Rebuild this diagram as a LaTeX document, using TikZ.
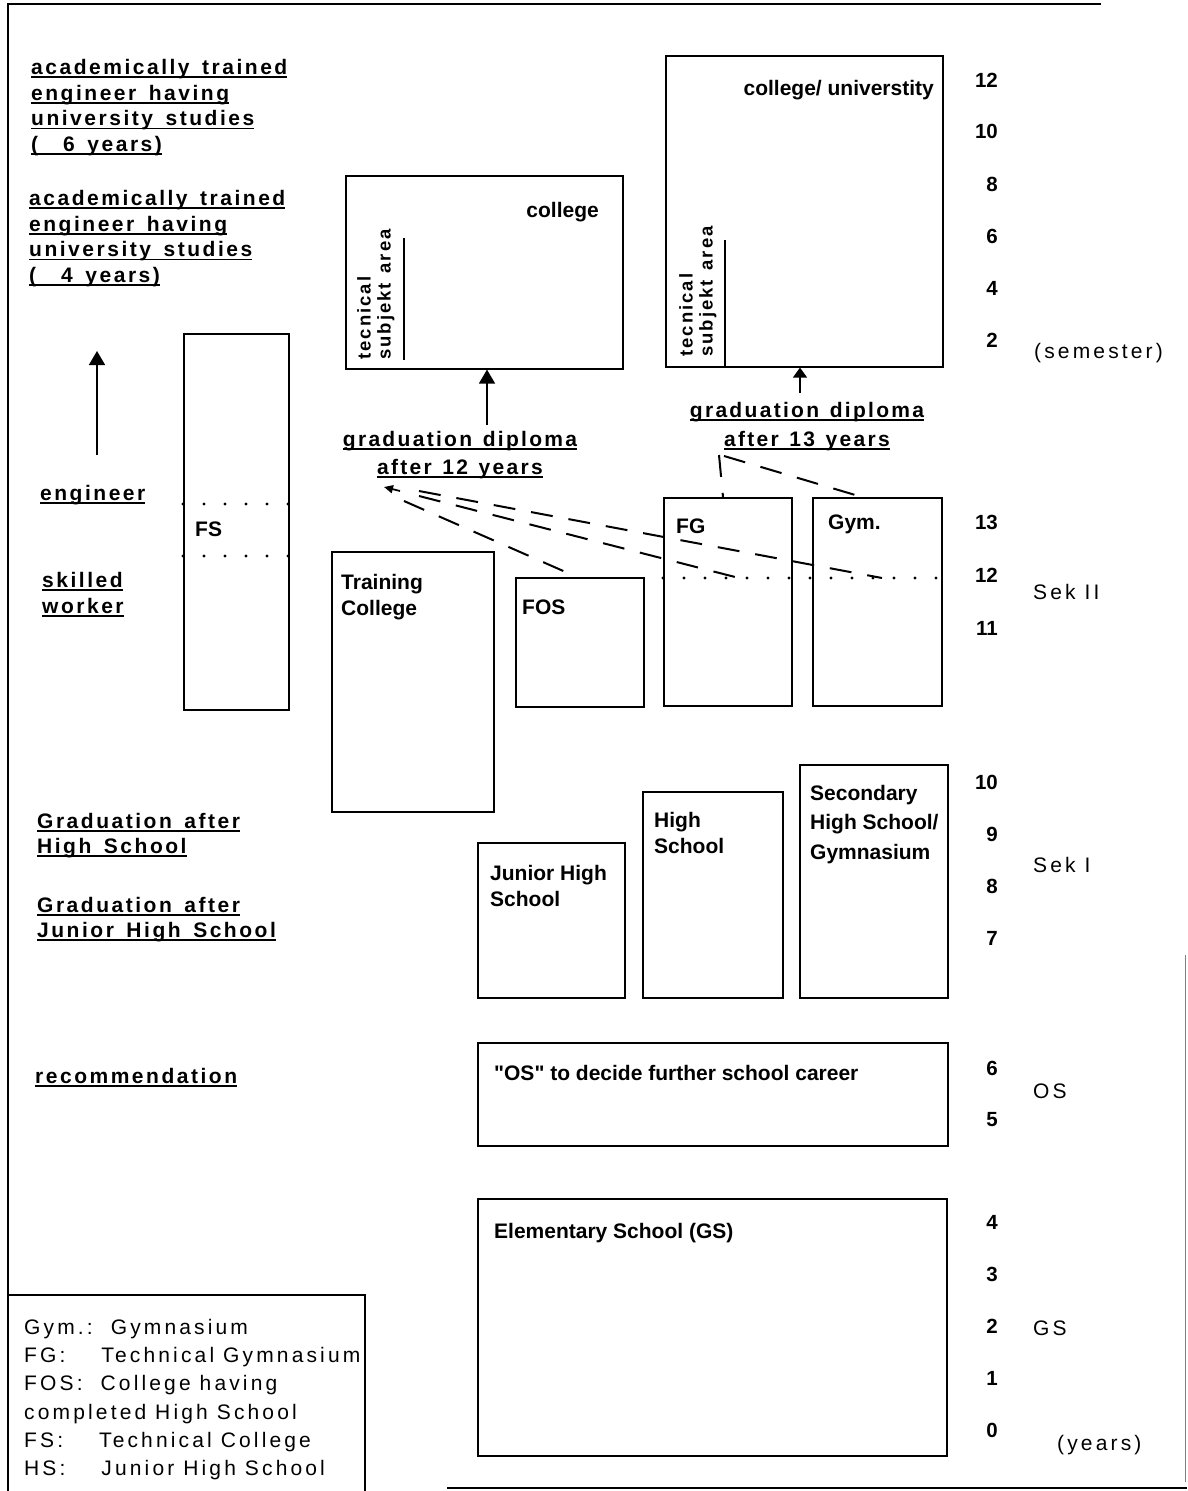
\documentclass[tikz,border=0pt]{standalone}
\usepackage{fontspec}
\setmainfont{Liberation Sans}
\newfontfamily\lsp[LetterSpace=15]{Liberation Sans}
\newfontfamily\lspb[LetterSpace=12,WordSpace=1.5]{Liberation Sans Bold}
\newfontfamily\lspc[LetterSpace=11,WordSpace=1.3]{Liberation Sans Bold}
\newfontfamily\bnq[Ligatures=TeXOff]{Liberation Sans Bold}
\usetikzlibrary{arrows.meta}
\newcommand\myul[1]{\setbox0\hbox{#1}\rlap{\rule[-3.5pt]{\wd0}{1.6pt}}\box0}
\tikzset{
  box/.style={draw, line width=1.6pt, inner sep=0pt, anchor=north west},
  blab/.style={anchor=north west, inner sep=0pt, align=left, font=\bfseries\fontsize{21}{26}\selectfont},
  slab/.style={anchor=north west, inner sep=0pt, align=left, font=\lspb\fontsize{21}{25.7}\selectfont},
  rlab/.style={anchor=base west, inner sep=0pt, font=\lsp\fontsize{21}{25}\selectfont},
  num/.style={anchor=base east, inner sep=0pt, font=\bfseries\fontsize{20.5}{24}\selectfont},
  rot/.style={anchor=north west, inner sep=0pt, align=left, rotate=90, font=\lspc\fontsize{18.5}{20}\selectfont},
  arr/.style={line width=1.6pt, -{Triangle[length=14pt,width=16pt]}},
  dsh/.style={line width=2pt, dash pattern=on 22pt off 16pt},
  dots/.style={line width=3.4pt, line cap=round, dash pattern=on 0pt off 21pt},
}
\begin{document}
\begin{tikzpicture}[x=1pt,y=-1pt]
\useasboundingbox (0,0) rectangle (1187,1491);
% frame
\draw[line width=1.5pt] (8,1491) -- (8,4) -- (1101,4);
\draw[line width=1pt, gray] (1185,955) -- (1185,1482);
\draw[line width=1.5pt] (447,1488) -- (1187,1488);
% boxes
\node[box, minimum width=105, minimum height=376] (fs) at (183,333) {};
\node[box, minimum width=277, minimum height=193] (college) at (345,175) {};
\node[box, minimum width=277, minimum height=311] (uni) at (665,55) {};
\node[box, minimum width=162, minimum height=260] (train) at (331,551) {};
\node[box, minimum width=128, minimum height=129] (fos) at (515,577) {};
\node[box, minimum width=128, minimum height=208] (fg) at (663,497) {};
\node[box, minimum width=129, minimum height=208] (gym) at (812,497) {};
\node[box, minimum width=147, minimum height=155] (jhs) at (477,842) {};
\node[box, minimum width=140, minimum height=206] (hs) at (642,791) {};
\node[box, minimum width=148, minimum height=233] (sec) at (799,764) {};
\node[box, minimum width=470, minimum height=103] (os) at (477,1042) {};
\node[box, minimum width=469, minimum height=257] (gs) at (477,1198) {};
% legend box
\draw[line width=1.5pt] (8,1295) -- (365,1295) -- (365,1491);
% box labels
\node[blab] (fsl) at (195,522) {FS};
\node[blab, anchor=north east] (coll) at (599,202) {college};
\node[blab, anchor=north east] (unil) at (934,80) {college/ universtity};
\node[blab] (trainl) at (341,574) {Training\\College};
\node[blab] (fosl) at (522,600) {FOS};
\node[blab] (fgl) at (676,519) {FG};
\node[blab] (gyml) at (828,515) {Gym.};
\node[blab] (jhsl) at (490,865) {Junior High\\School};
\node[blab] (hsl) at (654,812) {High\\School};
\node[blab, font=\bfseries\fontsize{21}{29.5}\selectfont] (secl) at (810,785) {Secondary\\High School/\\Gymnasium};
\node[blab, font=\bnq\fontsize{21}{26}\selectfont] (osl) at (494,1065) {"OS" to decide further school career};
\node[blab] (gsl) at (494,1223) {Elementary School (GS)};
% rotated labels and subject lines
\node[rot] (rc) at (357,360) {tecnical\\subjekt area};
\node[rot] (ru) at (679,357) {tecnical\\subjekt area};
\draw[line width=1.6pt] (404,238) -- (404,360);
\draw[line width=1.6pt] (725,240) -- (725,366);
% dotted lines
\draw[dots] (183,504) -- (290,504);
\draw[dots] (183,556) -- (290,556);
\draw[dots] (663,578) -- (943,578);
% left labels
\node[slab] (l6) at (31,59) {\myul{academically trained}\\\myul{engineer having}\\\myul{university studies}\\\myul{(\ \ 6 years)}};
\node[slab] (l4) at (29,190) {\myul{academically trained}\\\myul{engineer having}\\\myul{university studies}\\\myul{(\ \ 4 years)}};
\node[slab] (eng) at (40,485) {\myul{engineer}};
\node[slab, font=\lspb\fontsize{21}{26}\selectfont] (sw) at (42,572) {\myul{skilled}\\\myul{worker}};
\node[slab, font=\lspb\fontsize{21}{25}\selectfont] (ghs) at (37,813) {\myul{Graduation after}\\\myul{High School}};
\node[slab, font=\lspb\fontsize{21}{25}\selectfont] (gjhs) at (37,897) {\myul{Graduation after}\\\myul{Junior High School}};
\node[slab] (rec) at (35,1068) {\myul{recommendation}};
% legend
\node[slab, font=\lsp\fontsize{21}{28.2}\selectfont] (leg) at (24,1319) {Gym.:\ \ Gymnasium\\FG:\ \ \ \ Technical Gymnasium\\FOS:\ \ College having\\completed High School\\FS:\ \ \ \ Technical College\\HS:\ \ \ \ Junior High School};
% graduation labels
\node[slab, anchor=north, align=center, font=\lspc\fontsize{21}{28}\selectfont] (g12) at (460,431) {\myul{graduation diploma}\\\myul{after 12 years}};
\node[slab, anchor=north, align=center, font=\lspc\fontsize{21}{29}\selectfont] (g13) at (807,402) {\myul{graduation diploma}\\\myul{after 13 years}};
% arrows
\coordinate (a0) at (97,455);
\draw[arr] (a0) -- (97,351);
\coordinate (c12) at (487,425);
\draw[arr] (c12) -- (c12 |- college.south);
\coordinate (c13) at (800,393);
\draw[arr, -{Triangle[length=10pt,width=14pt]}] (c13) -- (c13 |- uni.south);
% dashed connectors
\coordinate (t12) at (384,487);
\coordinate (e1) at (577,577);
\coordinate (e2) at (739,578);
\coordinate (e3) at (882,578);
\coordinate (t13) at (719,455);
\coordinate (e4) at (723,497);
\coordinate (e5) at (862,497);
\draw[line width=1.8pt, -{Triangle[length=9pt,width=8pt]}] (400,491) -- (t12);
\draw[dsh] (404,501) -- (e1);
\draw[dsh] (419,496) -- (e2);
\draw[dsh] (419,491) -- (e3);
\draw[dsh] (t13) -- (e4);
\draw[dsh] (724,456) -- (e5);
% scales
\foreach \n/\y in {12/80,10/131,8/184,6/236,4/288,2/340,13/522,12/575,11/628,10/782,9/834,8/886,7/938,6/1068,5/1119,4/1222,3/1274,2/1326,1/1378,0/1430}
  \node[num] at (998,\y+7.5) {\n};
\node[rlab] (sem) at (1034,358) {(semester)};
\node[rlab] (sek2) at (1033,599) {Sek II};
\node[rlab] (sek1) at (1033,872) {Sek I};
\node[rlab] (osr) at (1033,1098) {OS};
\node[rlab] (gsr) at (1033,1335) {GS};
\node[rlab] (yrs) at (1057,1450) {(years)};
\end{tikzpicture}
\end{document}
